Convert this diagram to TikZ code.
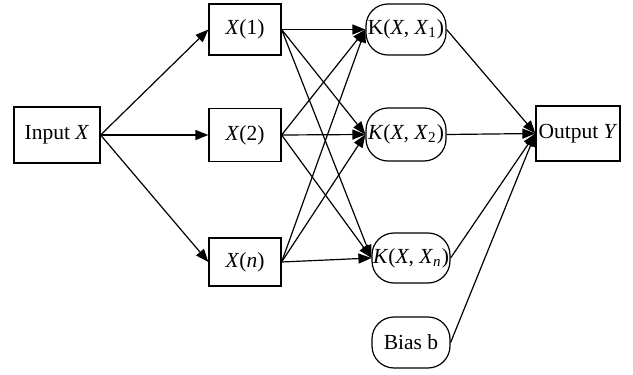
\documentclass[tikz,border=0pt]{standalone}
\usepackage{fontspec}
\setmainfont{Liberation Serif}
\usetikzlibrary{arrows.meta}
\begin{document}
\begin{tikzpicture}[x=0.5pt,y=-0.5pt,
  every node/.style={font=\fontsize{10.75}{13}\selectfont, inner sep=0pt},
  box/.style={draw, line width=0.6pt, minimum width=#1},
  box/.default=36pt,
  rbox/.style={draw, line width=0.6pt, rounded corners=11pt, minimum width=40pt, minimum height=25.5pt},
  conn/.style={line width=0.6pt, -{Triangle[length=6.5pt,width=5pt]}}]
\useasboundingbox (0,0) rectangle (633,375);
\node[box=43pt, minimum height=28pt] (in) at (57,135) {Input \textit{X}};
\node[box, minimum height=25.5pt] (x1) at (245,29.5) {\textit{X}(1)};
\node[box, minimum height=26.5pt] (x2) at (245,135) {\textit{X}(2)};
\node[box, minimum height=24pt] (xn) at (245,262) {\textit{X}(\textit{n})};
\node[rbox] (k1) at (406,29.5) {K(\textit{X}, \textit{X}\textsubscript{1})};
\node[rbox, minimum height=26.5pt] (k2) at (406,134.5) {\textit{K}(\textit{X}, \textit{X}\textsubscript{2})};
\node[rbox, minimum width=39pt, minimum height=25pt] (kn) at (411,258) {\textit{K}(\textit{X}, \textit{X}\textsubscript{\textit{n}})};
\node[rbox, minimum width=39pt, minimum height=25.5pt] (bias) at (411,342.5) {Bias b};
\node[box=42pt, minimum height=27.5pt] (out) at (578,133.5) {Output \textit{Y}};
\foreach \t in {x1,x2,xn} \draw[conn] (in.east) -- (\t.west);
\foreach \s in {x1,x2,xn} \foreach \t in {k1,k2,kn} \draw[conn] (\s.east) -- (\t.west);
\foreach \s in {k1,k2,kn,bias} \draw[conn] (\s.east) -- (out.west);
\end{tikzpicture}
\end{document}
